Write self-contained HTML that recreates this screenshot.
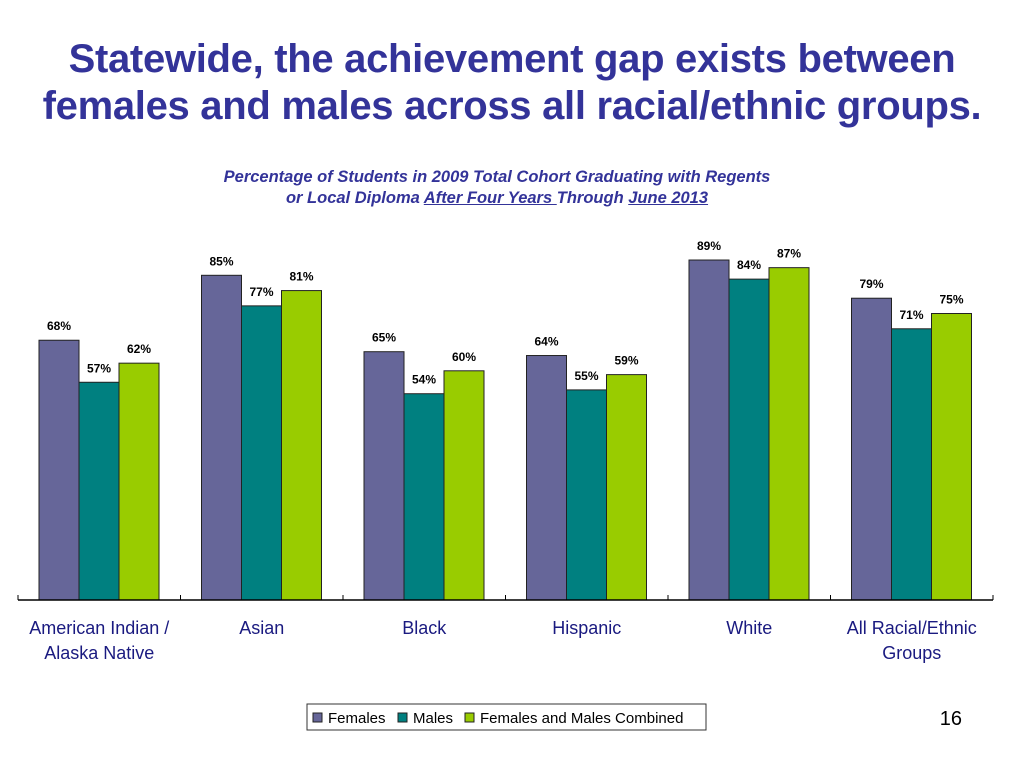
<!DOCTYPE html>
<html><head><meta charset="utf-8"><style>
body{margin:0;width:1024px;height:768px;background:#fff;font-family:"Liberation Sans",sans-serif;overflow:hidden;position:relative}
.t{position:absolute;left:0;width:1024px;text-align:center;color:#333399;font-weight:bold;font-size:40px;line-height:47px;top:36px;letter-spacing:-0.3px}
.st{position:absolute;left:0;width:994px;text-align:center;color:#333399;font-weight:bold;font-style:italic;font-size:16.5px;line-height:21px;top:167px}
</style></head><body>
<div class="t">Statewide, the achievement gap exists between<br>females and males across all racial/ethnic groups.</div>
<div class="st">Percentage of Students in 2009 Total Cohort Graduating with Regents<br>or Local Diploma <u>After Four Years </u>Through <u>June 2013</u></div>
<svg id="chart" width="1024" height="768" style="position:absolute;left:0;top:0"></svg>
<script>
const categories=[["American Indian /","Alaska Native"],["Asian"],["Black"],["Hispanic"],["White"],["All Racial/Ethnic","Groups"]];
const seriesNames=["Females","Males","Females and Males Combined"];
const females=[68,85,65,64,89,79];
const males=[57,77,54,55,84,71];
const combined=[62,81,60,59,87,75];
const series=[females,males,combined];
const colors=["#666699","#008080","#99cc00"];
const svg=document.getElementById('chart');
const NS="http://www.w3.org/2000/svg";
const x0=18,x1=993,base=600,pxPer=3.82;
const gw=(x1-x0)/categories.length,bw=40,off=21;
const y=v=>base-v*pxPer;
function mk(t,a){const e=document.createElementNS(NS,t);for(const k in a)e.setAttribute(k,a[k]);svg.appendChild(e);return e;}
series.forEach((s,si)=>{s.forEach((v,ci)=>{
 const bx=x0+ci*gw+off+si*bw;
 const r=mk('rect',{x:bx,y:y(v),width:bw,height:base-y(v),fill:colors[si],stroke:'#222',"stroke-width":1});
 
 
 const t=mk('text',{x:bx+bw/2,y:y(v)-10,"text-anchor":"middle","font-size":12,"font-weight":"bold",fill:"#000"});
 t.textContent=v+'%';
 
 
});});
const ax=mk('line',{x1:x0,x2:x1,y1:base,y2:base,stroke:'#000',"stroke-width":1.5});


for(let i=0;i<=categories.length;i++){const tx=x0+i*gw;mk('line',{x1:tx,x2:tx,y1:base,y2:base-5,stroke:'#000'});}
categories.forEach((c,ci)=>{c.forEach((ln,li)=>{
 const t=mk('text',{x:x0+ci*gw+gw/2,y:634+li*25,"text-anchor":"middle","font-size":18,fill:"#1a1a80"});
 t.textContent=ln;
 
 
});});
const lg=mk('rect',{x:307,y:704,width:399,height:26,fill:'#fff',stroke:'#333'});


const lx=[313,398,465];
seriesNames.forEach((n,i)=>{
 mk('rect',{x:lx[i],y:713,width:9,height:9,fill:colors[i],stroke:'#222'});
 const t=mk('text',{x:lx[i]+15,y:723,"font-size":15,fill:'#000'});
 t.textContent=n;
 
 
});
const pn=mk('text',{x:962,y:725,"text-anchor":"end","font-size":20,fill:'#000'});
pn.textContent='16';


</script>
</body></html>
